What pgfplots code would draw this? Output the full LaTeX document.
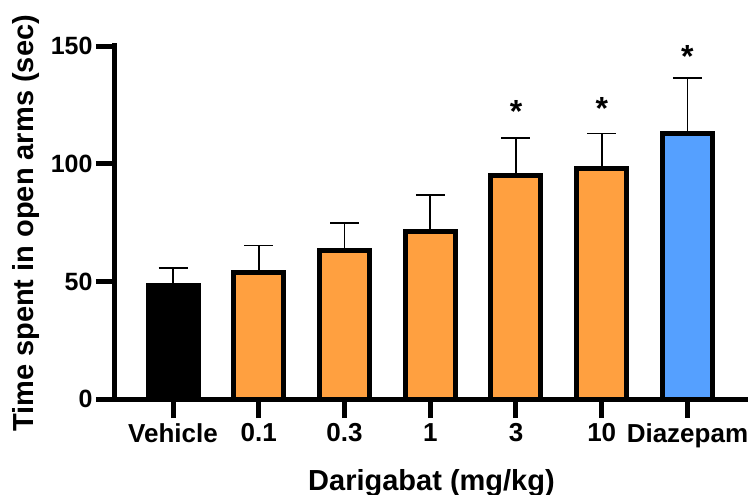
\documentclass[border=0pt]{standalone}
\usepackage{fontspec}
\setmainfont{Liberation Sans}
\usepackage{pgfplots}
\pgfplotsset{compat=1.18}
\definecolor{barorange}{RGB}{255,160,64}
\definecolor{barblue}{RGB}{85,160,255}
\begin{document}
\begin{tikzpicture}
\useasboundingbox (-115pt,-96pt) rectangle (637pt,399pt);
\begin{axis}[
  at={(0pt,0pt)}, anchor=south west,
  scale only axis, width=633pt, height=356.3pt,
  xmin=-0.677, xmax=6.706, ymin=0, ymax=151.5,
  axis x line=bottom, axis y line=left,
  axis line style={-, line width=5pt, black},
  xtick={0,1,2,3,4,5,6},
  xticklabels={Vehicle,0.1,0.3,1,3,10,Diazepam},
  ytick={0,50,100,150},
  minor tick num=0,
  tick align=outside,
  major tick length=19pt,
  xtick style={line width=5pt, draw=black},
  ytick style={line width=5pt, draw=black},
  tick label style={font=\fontsize{25}{30}\selectfont\bfseries},
  xticklabel style={font=\fontsize{26}{30}\selectfont\bfseries, yshift=-2pt},
  /pgf/number format/assume math mode=true,
  xlabel={Darigabat (mg/kg)},
  ylabel={Time spent in open arms (sec)},
  label style={font=\fontsize{29}{34}\selectfont\bfseries},
  xlabel style={at={(axis description cs:0.5,-0.2554)}, anchor=base},
  ylabel style={at={(axis description cs:-0.1295,0.4926)}, anchor=base},
  clip=false,
  ybar,
  bar width=50pt,
  error bars/y dir=plus,
  error bars/y explicit,
  error bars/error bar style={line width=1.8pt, black},
  error bars/error mark options={rotate=90, line width=1.8pt, black, mark size=14.5pt},
]
\addplot[ybar, bar shift=0pt, fill=black, draw=black, line width=5pt]
  coordinates {(0,48.4) +- (0,7.2)};
\addplot[ybar, bar shift=0pt, fill=barorange, draw=black, line width=5pt]
  coordinates {(1,54.0) +- (0,11.3) (2,63.3) +- (0,11.5) (3,71.1) +- (0,15.8) (4,94.9) +- (0,16.0) (5,98.1) +- (0,14.8)};
\addplot[ybar, bar shift=0pt, fill=barblue, draw=black, line width=5pt]
  coordinates {(6,112.9) +- (0,23.6)};
\node[font=\fontsize{32}{32}\selectfont\bfseries, anchor=base] at (axis cs:4,117.6) {*};
\node[font=\fontsize{32}{32}\selectfont\bfseries, anchor=base] at (axis cs:5,119.0) {*};
\node[font=\fontsize{32}{32}\selectfont\bfseries, anchor=base] at (axis cs:6,141.1) {*};
\end{axis}
\end{tikzpicture}
\end{document}
